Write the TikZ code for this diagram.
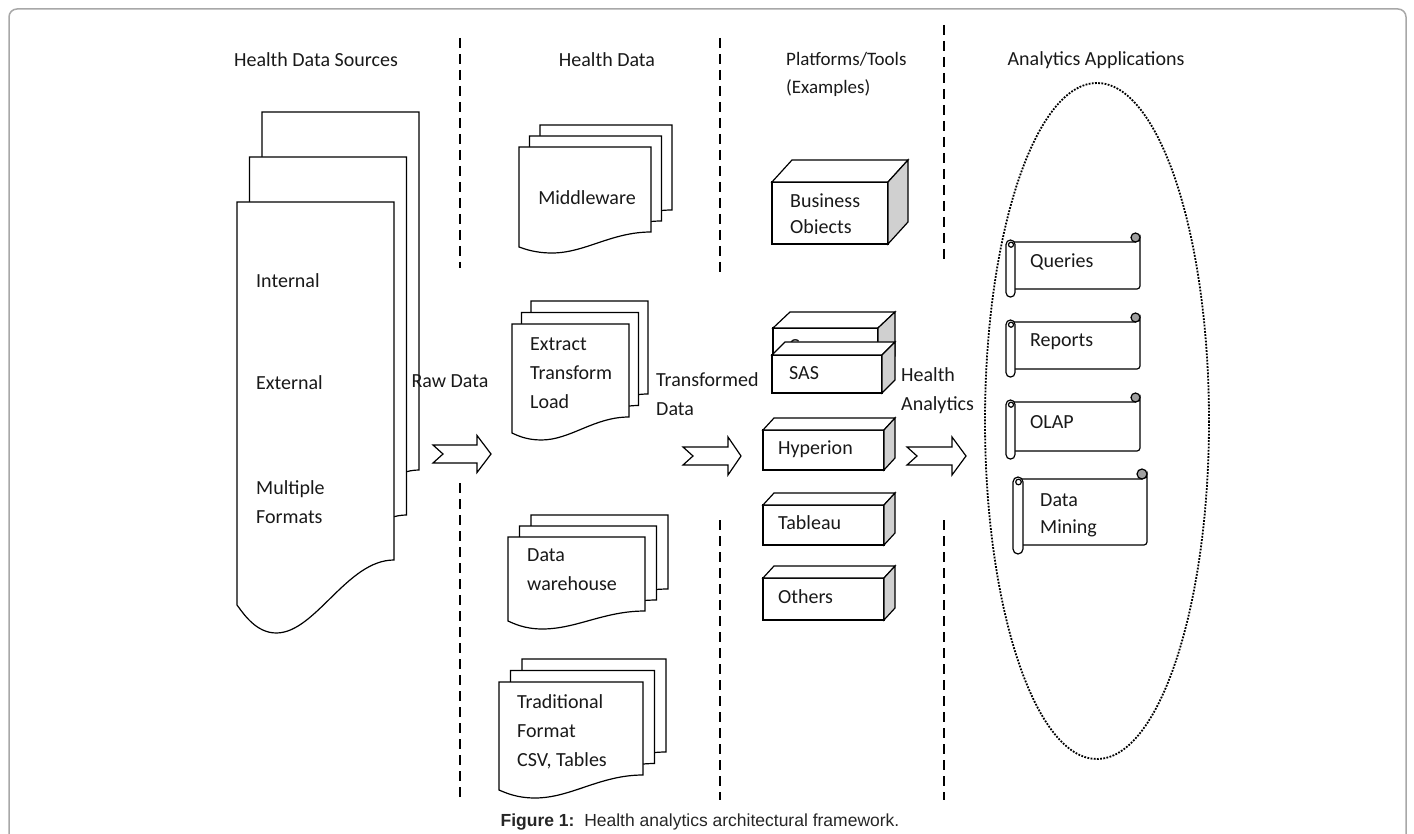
\documentclass[tikz,border=0pt]{standalone}
\usepackage{fontspec}
\setmainfont{Carlito}
\newfontfamily\capfont{Liberation Sans}
\definecolor{sidegray}{HTML}{D0D0D0}
\definecolor{curlgray}{HTML}{A0A0A0}
\definecolor{framegray}{HTML}{A8A8A8}
\tikzset{
  shp/.style={draw=black, line width=1.2pt, fill=white, line join=miter},
  sep/.style={draw=black, line width=2.4pt, dash pattern=on 10pt off 6pt},
  lbl/.style={font=\fontsize{20}{24}\selectfont, inner sep=0pt, text=black!90},
  mlbl/.style={font=\fontsize{20}{29}\selectfont, inner sep=0pt, align=left, text=black!90},
  blockarrow/.style={draw=black, line width=1.2pt, fill=white},
}
% document page: L T W H a b
\newcommand\docpg[6]{%
  \draw[shp] (#1,#2) -- ({#1+#3},#2) -- ({#1+#3},{#2+#4})
    .. controls ({#1+0.7*#3},{#2+#4}) and ({#1+0.5*#3},{#2+#4+#6}) .. ({#1+0.25*#3},{#2+#4+#6})
    .. controls ({#1+0.12*#3},{#2+#4+#6}) and ({#1+0.04*#3},{#2+#4+#5+0.3*(#6-#5)}) .. (#1,{#2+#4+#5}) -- cycle;}
% stack of three pages: L T W H a b dx dy
\newcommand\docstack[8]{%
  \docpg{#1+2*#7}{#2-2*#8}{#3}{#4}{#5}{#6}
  \docpg{#1+#7}{#2-#8}{#3}{#4}{#5}{#6}
  \docpg{#1}{#2}{#3}{#4}{#5}{#6}}
% cuboid: L T R B dx dy
\newcommand\cuboid[6]{%
  \draw[shp] (#1,#2) rectangle (#3,#4);
  \draw[shp] (#1,#2) -- ({#1+#5},{#2-#6}) -- ({#3+#5},{#2-#6}) -- (#3,#2) -- cycle;
  \draw[shp, fill=sidegray] (#3,#2) -- ({#3+#5},{#2-#6}) -- ({#3+#5},{#4-#6}) -- (#3,#4) -- cycle;}
% scroll: L yT R B c
\newcommand\scrollshape[5]{%
  \draw[shp] ({#1+#5/2},#2) -- ({#3-#5/2},#2) arc[start angle=90,end angle=0,radius={#5/2}]
    -- (#3,{#4-3}) arc[start angle=0,end angle=90,radius=3] -- ({#1+#5/2},#4) -- cycle;
  \draw[shp, fill=curlgray] ({#3-#5/2},{#2-#5/2}) circle[radius={#5/2}];
  \draw[shp] (#1,{#2-2+#5/2}) -- (#1,{#4+0.9*#5-#5/2}) arc[start angle=180,end angle=0,radius={#5/2}]
    -- ({#1+#5},{#2-2+#5/2}) arc[start angle=0,end angle=-180,radius={#5/2}] -- cycle;
  \draw[shp] ({#1+#5/2+0.5},{#2+#5*0.3}) circle[radius={#5*0.28}];}
% notched arrow: xtail xnotch xhead xtip yc sh hh
\newcommand\notcharrow[7]{%
  \draw[blockarrow] (#1,{#5-#6}) -- (#3,{#5-#6}) -- (#3,{#5-#7}) -- (#4,#5) -- (#3,{#5+#7})
    -- (#3,{#5+#6}) -- (#1,{#5+#6}) -- (#2,#5) -- cycle;}
\begin{document}
\begin{tikzpicture}[x=1pt,y=-1pt]
\useasboundingbox (0,0) rectangle (1414,834);
% frame
\draw[framegray, line width=1.5pt, rounded corners=8pt] (9,840) -- (9,9) -- (1406,9) -- (1406,840);

% headers
\node[lbl] (h1) at (316,60) {Health Data Sources};
\node[lbl] (h2) at (607,60) {Health Data};
\node[lbl, align=left, font=\fontsize{19}{28}\selectfont, anchor=west] (h3) at (786,74) {Platforms/Tools\\(Examples)};
\node[lbl] (h4) at (1096,60) {Analytics Applications};

% separators
\draw[sep] (460,38) -- (460,268);
\draw[sep] (460,483) -- (460,800);
\draw[sep] (720,38) -- (720,272);
\draw[sep] (720,520) -- (720,800);
\draw[sep] (944,25) -- (944,262);
\draw[sep] (944,520) -- (944,800);

% health data sources stack
\docstack{237}{202}{157}{358}{45}{73}{12.5}{45}
\node[lbl, anchor=west] (internal) at (256,281) {Internal};
\node[lbl, anchor=west] (external) at (256,383) {External};
\node[mlbl, anchor=north west] (multiple) at (256,480) {Multiple\\Formats};

% middleware
\docstack{519}{147}{132}{85}{15}{21}{10.5}{11}
\node[lbl] (middleware) at (587,198) {Middleware};
% ETL
\docstack{512}{324}{117}{93}{16}{23}{9.5}{11.5}
\node[mlbl, anchor=north west] (etl) at (530,337) {Extract\\Transform\\Load};
% data warehouse
\docstack{508}{537}{137}{74}{10}{18}{11.5}{11}
\node[mlbl, anchor=north west] (dw) at (527,548) {Data\\warehouse};
% traditional
\docstack{499}{682}{144}{93}{15}{23}{11.5}{11.5}
\node[mlbl, anchor=north west] (trad) at (517,694) {Traditional\\Format\\CSV, Tables};

% block arrows and labels
\notcharrow{433}{443}{477}{491}{454}{9}{18.5}
\node[lbl] (raw) at (450,381) {Raw Data};
\notcharrow{683}{693}{728}{741}{456}{9}{19}
\node[mlbl, anchor=north west] (trans) at (656,372) {Transformed\\Data};
\notcharrow{907}{917}{952}{966}{456}{9}{19}
\node[mlbl, anchor=north west] (ha) at (901,367) {Health\\Analytics};

% platforms
\cuboid{772}{182}{888}{244}{20}{22}
\begin{scope}
\clip (772,182) rectangle (888,234);
\node[lbl, align=left, font=\fontsize{20}{26}\selectfont, anchor=north west] (bo) at (790,194) {Business\\Objects};
\end{scope}
\cuboid{773}{328}{878}{372}{17}{16}
\node[lbl, anchor=west] (cognos) at (789,348) {Cognos};
\cuboid{772}{355}{882}{393}{13}{13}
\node[lbl, anchor=west] (sas) at (789,373) {SAS};
\cuboid{763}{430}{884}{470}{11}{12}
\node[lbl, anchor=west] (hyp) at (778,449) {Hyperion};
\cuboid{763}{505}{884}{545}{11}{12}
\node[lbl, anchor=west] (tab) at (778,523) {Tableau};
\cuboid{763}{578}{884}{620}{11}{12}
\node[lbl, anchor=west] (oth) at (778,597) {Others};

% analytics applications
\draw[black, line width=1.8pt, dash pattern=on 1.8pt off 1.4pt] (1097,421) ellipse[x radius=112, y radius=338];
\scrollshape{1006}{242}{1140}{289}{9}
\node[lbl, anchor=west] (q) at (1030,262) {Queries};
\scrollshape{1006}{322}{1140}{369}{9}
\node[lbl, anchor=west] (r) at (1030,342) {Reports};
\scrollshape{1006}{402}{1140}{451}{9}
\node[lbl, anchor=west] (o) at (1030,422) {OLAP};
\scrollshape{1013}{479}{1147}{545}{10}
\node[mlbl, font=\fontsize{20}{27}\selectfont, anchor=north west] (dm) at (1040,493) {Data\\Mining};

% caption
\node[font=\capfont\fontsize{17.5}{20}\selectfont, inner sep=0pt, text=black!85] (cap) at (700,822) {\textbf{Figure 1:}\ \ Health analytics architectural framework.};
\end{tikzpicture}
\end{document}
